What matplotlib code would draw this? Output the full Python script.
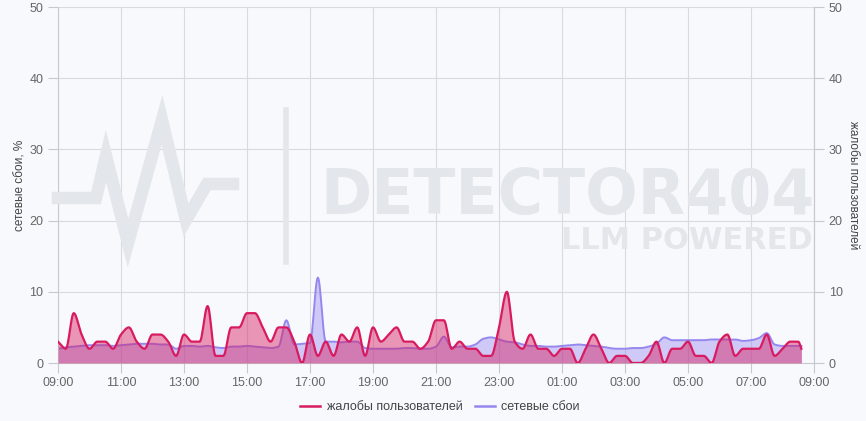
import numpy as np
import pandas as pd
import matplotlib
matplotlib.use("Agg")
import matplotlib.pyplot as plt
import matplotlib.dates as mdates
from matplotlib.lines import Line2D

plt.rcParams['font.family'] = ['Liberation Sans', 'DejaVu Sans']

# ---- data ----
times = list(pd.date_range('2024-01-01 09:00', periods=95, freq='15min')) + [pd.Timestamp('2024-01-02 08:36')]
complaints = [3, 2, 7, 4, 2, 3, 3, 2, 4, 5, 3, 2, 4, 4, 3, 1, 4, 3, 3, 8,
              1, 1, 5, 5, 7, 7, 5, 3, 5, 5, 3, 0, 4, 1, 3, 1, 4, 3, 5, 1,
              5, 3, 4, 5, 3, 3, 2, 3, 6, 6, 2, 3, 2, 2, 1, 1, 5, 10, 3, 2,
              4, 2, 2, 1, 2, 2, 0, 2, 4, 2, 0, 1, 1, 0, 0, 1, 3, 0, 2, 2,
              3, 1, 1, 0, 3, 4, 1, 2, 2, 2, 4, 1, 2, 3, 3, 2]
network = [2.0, 2.2, 2.3, 2.4, 2.5, 2.5, 2.5, 2.4, 2.5, 2.6, 2.7, 2.7, 2.7, 2.6, 2.6, 2.0, 2.4, 2.4, 2.3, 2.4,
           2.2, 2.1, 2.3, 2.3, 2.4, 2.3, 2.2, 2.1, 2.3, 6.0, 2.6, 2.7, 2.8, 12.0, 3.0, 3.0, 2.9, 3.0, 3.0, 2.1,
           2.0, 2.0, 2.0, 2.0, 2.1, 2.1, 2.0, 2.0, 2.3, 3.7, 2.2, 2.3, 2.3, 2.6, 3.4, 3.6, 3.3, 3.0, 2.9, 2.6,
           2.4, 2.4, 2.3, 2.3, 2.4, 2.5, 2.6, 2.5, 2.4, 2.3, 2.1, 2.0, 2.0, 2.1, 2.1, 2.3, 2.7, 3.6, 3.2, 3.2,
           3.2, 3.2, 3.2, 3.3, 3.3, 3.3, 3.3, 3.1, 3.2, 3.5, 4.2, 2.6, 2.4, 2.4, 2.4, 2.4]
tick_times = list(pd.date_range('2024-01-01 09:00', periods=13, freq='2h'))
y_ticks = [0, 10, 20, 30, 40, 50]
series_names = ['жалобы пользователей', 'сетевые сбои']
left_label = 'сетевые сбои, %'
right_label = 'жалобы пользователей'


def monotone(x, y, n=12):
    x = np.asarray(x, float); y = np.asarray(y, float)
    h = np.diff(x); d = np.diff(y) / h
    m = np.zeros_like(y)
    m[0] = d[0]; m[-1] = d[-1]
    for k in range(1, len(y) - 1):
        if d[k - 1] * d[k] <= 0:
            m[k] = 0
        else:
            w1 = 2 * h[k] + h[k - 1]; w2 = h[k] + 2 * h[k - 1]
            m[k] = (w1 + w2) / (w1 / d[k - 1] + w2 / d[k])
    xs, ys = [], []
    for k in range(len(h)):
        t = np.linspace(0, 1, n, endpoint=False)
        h00 = 2 * t**3 - 3 * t**2 + 1; h10 = t**3 - 2 * t**2 + t
        h01 = -2 * t**3 + 3 * t**2; h11 = t**3 - t**2
        xs.append(x[k] + t * h[k])
        ys.append(h00 * y[k] + h10 * h[k] * m[k] + h01 * y[k + 1] + h11 * h[k] * m[k + 1])
    xs.append([x[-1]]); ys.append([y[-1]])
    return np.concatenate(xs), np.concatenate(ys)


bg = '#f8f9fc'
fig = plt.figure(figsize=(8.66, 4.21), dpi=100, facecolor=bg)
ax = fig.add_axes([58 / 866, 1 - 363 / 421, (814 - 58) / 866, (363 - 7) / 421])
ax.set_facecolor(bg)

# watermark
wm = '#e3e6ea'
logo_x = [58, 96, 106, 128, 162, 186, 207, 233]
logo_y = [198, 198, 156, 243, 120, 220, 184, 184]
fig.add_artist(Line2D([v / 866 for v in logo_x], [1 - v / 421 for v in logo_y], color=wm, lw=9,
                      solid_joinstyle='miter', zorder=0.5))
fig.add_artist(Line2D([286 / 866, 286 / 866], [1 - 110 / 421, 1 - 262 / 421], color=wm, lw=4, zorder=0.5))
fig.text(815 / 866, 1 - 214 / 421, 'DETECTOR404', fontsize=44.5, fontweight='bold', color=wm,
         ha='right', va='baseline', family='DejaVu Sans', zorder=0.5)
fig.text(813 / 866, 1 - 249 / 421, 'LLM POWERED', fontsize=22, fontweight='bold', color=wm,
         ha='right', va='baseline', family='DejaVu Sans', zorder=0.5)

xnum = mdates.date2num(times)
xs, yn = monotone(xnum, network)
_, yc = monotone(xnum, complaints)

c_line = '#d81b60'
p_line = '#9687ee'
ax.fill_between(xs, 0, yn, color=p_line, alpha=0.42, lw=0, zorder=2)
ax.plot(xs, yn, color=p_line, lw=1.4, zorder=2.1)
ax.fill_between(xs, 0, yc, color=c_line, alpha=0.45, lw=0, zorder=3)
ax.plot(xs, yc, color=c_line, lw=1.6, zorder=3.1)

ax.set_ylim(0, 50)
ax.set_xlim(mdates.date2num(tick_times[0]), mdates.date2num(tick_times[-1]))
ax.set_yticks(y_ticks)
ax.set_xticks(mdates.date2num(tick_times))
ax.xaxis.set_major_formatter(mdates.DateFormatter('%H:%M'))
ax.grid(True, color='#d9dadf', lw=0.8, zorder=0)
ax.set_axisbelow(True)
ax.spines['top'].set_visible(False)
for s in ['left', 'right', 'bottom']:
    ax.spines[s].set_color('#c8c9ce')
    ax.spines[s].set_linewidth(0.8)
ax.tick_params(axis='both', colors='#c8c9ce', labelcolor='#666666', labelsize=9, length=7, width=0.8)
ax.tick_params(axis='x', pad=3)
ax.set_ylabel(left_label, fontsize=8.5, color='#444444', labelpad=2)

ax2 = ax.twinx()
ax2.set_ylim(0, 50)
ax2.set_yticks(y_ticks)
for s in ['top', 'left', 'bottom']:
    ax2.spines[s].set_visible(False)
ax2.spines['right'].set_color('#c8c9ce')
ax2.spines['right'].set_linewidth(0.8)
ax2.tick_params(axis='y', colors='#c8c9ce', labelcolor='#666666', labelsize=9, length=7, width=0.8)
ax2.set_ylabel(right_label, fontsize=8.5, color='#444444', rotation=270, labelpad=12)

handles = [Line2D([], [], color=c_line, lw=1.8), Line2D([], [], color=p_line, lw=1.8)]
fig.legend(handles, series_names, loc='center', bbox_to_anchor=(440 / 866, 1 - 407 / 421), ncol=2,
           frameon=False, fontsize=9, handlelength=1.6, handletextpad=0.5, columnspacing=1.0,
           labelcolor='#444444')

fig.savefig('out.png', dpi=100, facecolor=bg)
